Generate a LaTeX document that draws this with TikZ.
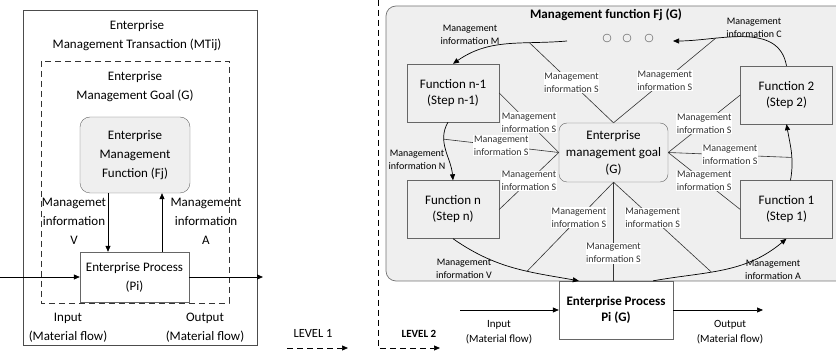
\documentclass[tikz,border=0pt]{standalone}
\usepackage{fontspec}
\setmainfont{Carlito}
\usetikzlibrary{arrows.meta}

\begin{document}
\begin{tikzpicture}[x=1pt, y=-1pt,
		box/.style={draw=black!60, fill=white, align=center, inner sep=0pt},
		fbox/.style={box, fill=panelgray, minimum width=92pt, minimum height=58pt, font=\fontsize{13}{16}\selectfont},
		ltext/.style={align=center, font=\fontsize{13}{19}\selectfont},
		arr/.style={-{Triangle[length=6pt,width=5pt]}, line width=0.7pt},
		sline/.style={black!80, line width=0.6pt},
		slabel/.style={fill=white, inner sep=0.6pt, align=center, font=\fontsize{10}{13}\selectfont},
		alabel/.style={align=center, font=\fontsize{10}{13}\selectfont},
		flowtext/.style={align=center, font=\fontsize{11}{15}\selectfont},
		dashline/.style={dash pattern=on 6pt off 4pt, line width=0.7pt}]
		\useasboundingbox (0,0) rectangle (836,355);
		% Define colors
		\definecolor{panelgray}{RGB}{239,239,239}
		% LEVEL 1: management transaction
		\draw[black!70, line width=0.7pt] (23,10) rectangle (257,345);
		\node[ltext] (ltrans) at (137,36) {Enterprise\\Management Transaction (MTij)};
		\draw[dashline, black!80] (41,61) rectangle (229,303);
		\node[ltext] (lgoal) at (135,87) {Enterprise\\Management Goal (G)};
		\node[box, ltext, rounded corners=10pt, fill=panelgray, minimum width=110pt, minimum height=76pt] (lfj) at (135,155) {Enterprise\\Management\\Function (Fj)};
		\node[box, ltext, minimum width=109pt, minimum height=50pt] (lpi) at (134.5,277) {Enterprise Process\\(Pi)};
		\draw[arr] ([xshift=-27pt]lfj.south) -- ([xshift=-27pt]lfj.south |- lpi.north);
		\draw[arr] ([xshift=27pt]lfj.south |- lpi.north) -- ([xshift=27pt]lfj.south);
		\node[ltext] (lvlab) at (74,221) {Managemet\\information\\V};
		\node[ltext] (lalab) at (206,221) {Management\\information\\A};
		\coordinate (lin) at (0,277);
		\coordinate (lout) at (263,277);
		\draw[arr] (lin) -- (lpi.west);
		\draw[arr] (lpi.east) -- (lout);
		\node[ltext] (linlab) at (68,328) {Input\\(Material flow)};
		\node[ltext] (loutlab) at (205,328) {Output\\(Material flow)};
		% Level markers
		\node[font=\fontsize{12.5}{15}\selectfont] (lev1) at (313,333) {LEVEL 1};
		\coordinate (lev1a) at (287,348);
		\coordinate (lev1b) at (348,348);
		\draw[arr, dashline] (lev1a) -- (lev1b);
		\coordinate (divtop) at (378,0);
		\coordinate (divbot) at (378,348);
		\coordinate (lev2b) at (440,348);
		\draw[arr, dashline] (divtop) -- (divbot) -- (lev2b);
		\node[font=\fontsize{11}{13}\selectfont\bfseries] (lev2) at (419,334) {LEVEL 2};
		% LEVEL 2: management function panel
		\draw[black!55, fill=panelgray, rounded corners=10pt, line width=0.7pt] (386,6) rectangle (850,281);
		\node[font=\fontsize{13}{15}\selectfont\bfseries] (title) at (606,15) {Management function Fj (G)};
		\draw[black!70] (607,38) circle (4);
		\draw[black!70] (627,38) circle (4);
		\draw[black!70] (649,38) circle (4);
		% Function boxes and goal
		\node[fbox] (fn1) at (453,93) {Function n-1\\(Step n-1)};
		\node[fbox] (fn) at (453,209.5) {Function n\\(Step n)};
		\node[fbox] (f2) at (786.5,95) {Function 2\\(Step 2)};
		\node[fbox] (f1) at (786.5,209.5) {Function 1\\(Step 1)};
		\node[box, fill=panelgray, rounded corners=8pt, minimum width=109pt, minimum height=59pt, font=\fontsize{13}{17}\selectfont] (goal) at (613.5,152.5) {Enterprise\\management goal\\(G)};
		\node[box, minimum width=114pt, minimum height=58pt, font=\fontsize{13}{16}\selectfont\bfseries] (pi) at (616,310) {Enterprise Process\\Pi (G)};
		% Flow between the functions
		\coordinate (mfrom) at (567,41);
		\coordinate (cto) at (673,41);
		\draw[arr] (mfrom) to[out=185, in=35] coordinate[pos=0.3] (ms) (fn1.north);
		\draw[arr] ([xshift=-5pt]fn1.south) to[out=240, in=95] coordinate[pos=0.3] (ns) (fn.north);
		\draw[arr] ([xshift=4pt]f1.north) to[out=80, in=-80] coordinate[pos=0.4] (rs) (f2.south);
		\draw[arr] (f2.north) to[out=100, in=0] coordinate[pos=0.7] (cs) (cto);
		\draw[arr] (fn.south) to[out=-35, in=170] coordinate[pos=0.62] (vs) ([xshift=20pt]pi.north west);
		\draw[arr] ([xshift=-20pt]pi.north east) to[out=10, in=220] coordinate[pos=0.4] (as) (f1.south);
		\node[alabel] (mlab) at (470,35) {Management\\information M};
		\node[alabel] (clab) at (754,28) {Management\\information C};
		\node[alabel] (nlab) at (417,160) {Management\\information N};
		\node[alabel] (vlab) at (464,269) {Management\\information V};
		\node[alabel] (alab) at (773,270) {Management\\information A};
		% Management information S
		\draw[sline] (goal.north) -- node[slabel] {Management\\information S} (ms);
		\draw[sline] (goal.north) -- node[slabel] {Management\\information S} (cs);
		\draw[sline] (goal.west) -- node[slabel] {Management\\information S} (fn1.east);
		\draw[sline] (goal.west) -- node[slabel] {Management\\information S} (ns);
		\draw[sline] (goal.west) -- node[slabel] {Management\\information S} (fn.east);
		\draw[sline] (goal.east) -- node[slabel] {Management\\information S} (f2.west);
		\draw[sline] (goal.east) -- node[slabel] {Management\\information S} (rs);
		\draw[sline] (goal.east) -- node[slabel] {Management\\information S} (f1.west);
		\draw[sline] (goal.south) -- node[slabel, pos=0.4] {Management\\information S} (vs);
		\draw[sline] (goal.south) -- node[slabel, pos=0.72] {Management\\information S} (goal.south |- pi.north);
		\draw[sline] (goal.south) -- node[slabel, pos=0.4] {Management\\information S} (as);
		% Material flow
		\coordinate (rin) at (460,310);
		\coordinate (rout) at (763,310);
		\draw[arr] (rin) -- (pi.west);
		\draw[arr] (pi.east) -- (rout);
		\node[flowtext] (rinlab) at (499,332) {Input\\(Material flow)};
		\node[flowtext] (routlab) at (730,332) {Output\\(Material flow)};
	\end{tikzpicture}
\end{document}
